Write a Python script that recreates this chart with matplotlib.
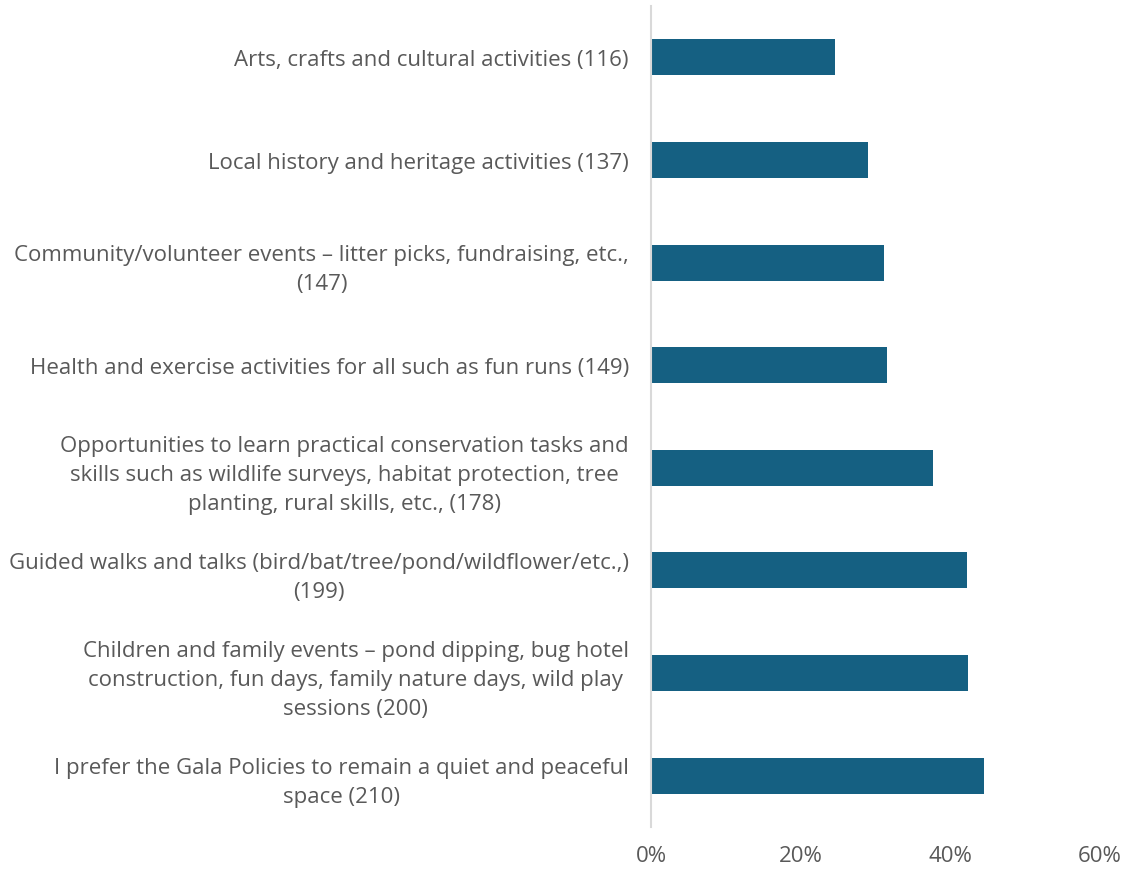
import matplotlib
matplotlib.use("Agg")
import matplotlib.pyplot as plt
from matplotlib.ticker import PercentFormatter

# categories, bottom to top
labels = [
    "I prefer the Gala Policies to remain a quiet and peaceful\nspace (210)",
    "Children and family events \u2013 pond dipping, bug hotel\nconstruction, fun days, family nature days, wild play\nsessions (200)",
    "Guided walks and talks (bird/bat/tree/pond/wildflower/etc.,)\n(199)",
    "Opportunities to learn practical conservation tasks and\nskills such as wildlife surveys, habitat protection, tree\nplanting, rural skills, etc., (178)",
    "Health and exercise activities for all such as fun runs (149)",
    "Community/volunteer events \u2013 litter picks, fundraising, etc.,\n(147)",
    "Local history and heritage activities (137)",
    "Arts, crafts and cultural activities (116)",
]
values = [44.5, 42.4, 42.2, 37.7, 31.6, 31.1, 29.0, 24.6]

text_color = "#595959"
bar_color = "#156082"

plt.rcParams["font.family"] = ["Open Sans", "DejaVu Sans"]
plt.rcParams["font.size"] = 16

fig = plt.figure(figsize=(11.36, 8.70), dpi=100)
ax = fig.add_axes([651 / 1136, 42 / 870, 449 / 1136, 821 / 870])

ax.barh(range(len(values)), values, height=0.35, color=bar_color)
ax.set_xlim(0, 60)
ax.set_ylim(-0.5, len(values) - 0.5)
ax.set_xticks([0, 20, 40, 60])
ax.xaxis.set_major_formatter(PercentFormatter(decimals=0))
ax.set_yticks(range(len(values)))
ax.set_yticklabels(labels, ha="right", multialignment="center", linespacing=1.5)

for s in ["top", "right", "bottom"]:
    ax.spines[s].set_visible(False)
ax.spines["left"].set_color("#d9d9d9")
ax.spines["left"].set_linewidth(1.5)

ax.tick_params(axis="both", length=0, colors=text_color)
ax.tick_params(axis="y", pad=16)
ax.tick_params(axis="x", pad=13)

fig.savefig("out.png", dpi=100)
